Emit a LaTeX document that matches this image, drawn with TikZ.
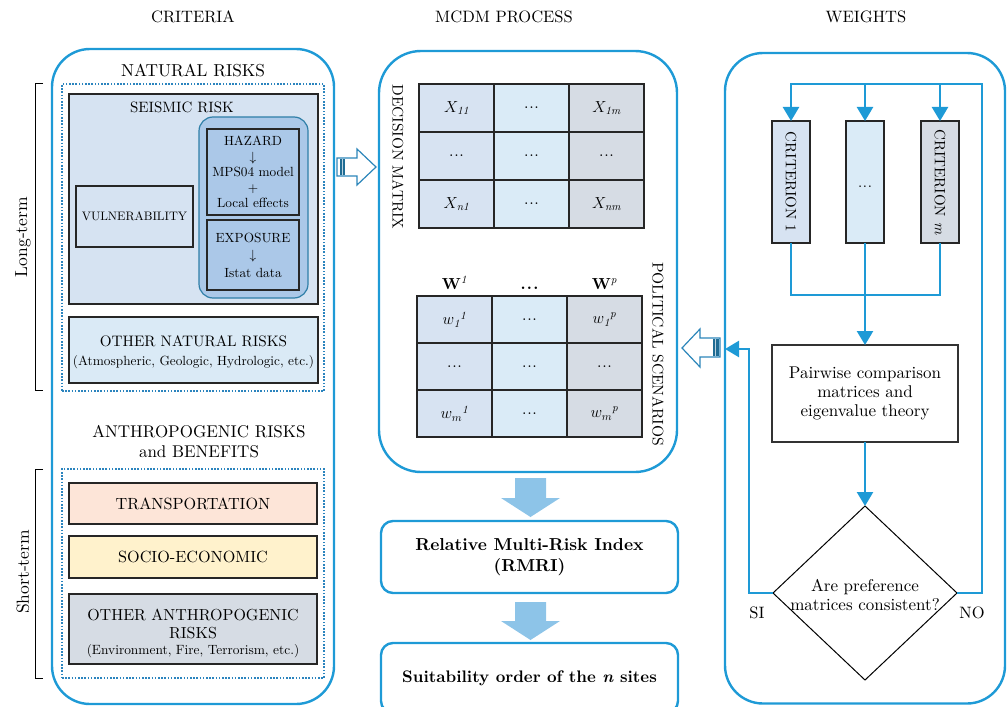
\documentclass[tikz,border=0pt]{standalone}
\usepackage{fix-cm}
\usepackage{fontspec}
\setmainfont{lmroman10}[Extension=.otf, UprightFont=*-regular, BoldFont=*-bold,
  ItalicFont=*-italic, BoldItalicFont=*-bolditalic]
\usetikzlibrary{arrows.meta,shapes.geometric}

\definecolor{frameblue}{HTML}{1E9AD6}
\definecolor{dotblue}{HTML}{2B84BE}
\definecolor{seisfill}{HTML}{D6E3F2}
\definecolor{hazfill}{HTML}{ABC8E8}
\definecolor{hazline}{HTML}{2F7FA8}
\definecolor{natfill}{HTML}{DAEAF6}
\definecolor{trfill}{HTML}{FDE5D8}
\definecolor{sefill}{HTML}{FFF2CC}
\definecolor{anfill}{HTML}{D6DCE4}
\definecolor{colA}{HTML}{D7E3F2}
\definecolor{colB}{HTML}{DAEBF7}
\definecolor{colC}{HTML}{D6DCE4}
\definecolor{blockarrow}{HTML}{8DC4E8}
\definecolor{hollowline}{HTML}{2C86BA}
\definecolor{stripe}{HTML}{1F6C94}

% compact ellipsis used in the matrix cells
\newcommand{\celldots}{.\kern0.7pt.\kern0.7pt.}

\tikzset{
  panel/.style={draw=frameblue, line width=2.4pt, rounded corners=#1},
  dotframe/.style={draw=dotblue, line width=1.6pt, dash pattern=on 1.6pt off 1.6pt},
  riskbox/.style={draw=black!85, line width=1.2pt},
  dmcell/.style={draw=black!85, line width=1.2pt, minimum width=75pt, minimum height=#1,
                 font=\fontsize{16}{19}\selectfont},
  flow/.style={draw=frameblue, line width=2.4pt, -{Triangle[length=14pt,width=16pt]}},
  link/.style={draw=frameblue, line width=2.4pt},
  heading/.style={font=\fontsize{16.5}{20}\selectfont},
  hollowarrow/.style={draw=hollowline, line width=1.2pt, fill=white, line join=miter},
  bracket/.style={draw=black, line width=1pt},
  termlabel/.style={font=\fontsize{17.5}{20}\selectfont, rotate=90},
}

\begin{document}
\begin{tikzpicture}[x=1pt, y=-1pt, every node/.style={inner sep=0pt, outer sep=0pt}]
\useasboundingbox (0,0) rectangle (1008,706);
\clip (0,0) rectangle (1008,706);

% ---------- column headings ----------
\node[heading] (hCrit) at (193,17) {CRITERIA};
\node[heading] (hMcdm) at (504,17) {MCDM PROCESS};
\node[heading] (hWeights) at (866,17) {WEIGHTS};

% ---------- criteria panel ----------
\node[panel=38pt, minimum width=282pt, minimum height=655pt] (critPanel) at (193,376.5) {};

\node[font=\fontsize{17.3}{20}\selectfont] (natTitle) at (193,70) {NATURAL RISKS};
\node[dotframe, minimum width=262pt, minimum height=307pt] (natFrame) at (193,237.5) {};

\node[riskbox, fill=seisfill, minimum width=249pt, minimum height=210pt] (seis) at (193.5,199) {};
\node[font=\fontsize{15}{18}\selectfont] (seisTitle) at (182,107) {SEISMIC RISK};

\node[draw=hazline, line width=1.2pt, fill=hazfill, rounded corners=14pt,
      minimum width=109pt, minimum height=181pt] (hazGroup) at (253.5,207.5) {};
\node[riskbox, fill=hazfill, minimum width=92pt, minimum height=86pt, align=center,
      font=\fontsize{13.3}{15.5}\selectfont] (haz) at (253,172)
      {HAZARD\\$\downarrow$\\MPS04 model\\+\\Local effects};
\node[riskbox, fill=hazfill, minimum width=92pt, minimum height=70pt, align=center,
      font=\fontsize{13.3}{17.5}\selectfont] (expo) at (253,255)
      {EXPOSURE\\$\downarrow$\\Istat data};

\node[riskbox, fill=seisfill, minimum width=117pt, minimum height=61pt,
      font=\fontsize{12.3}{14}\selectfont] (vuln) at (134.5,216.5) {VULNERABILITY};

\node[riskbox, fill=natfill, minimum width=249pt, minimum height=66pt] (othNat) at (193.5,350) {};
\node[font=\fontsize{15.2}{18}\selectfont] (othNatA) at (193.5,341) {OTHER NATURAL RISKS};
\node[font=\fontsize{13.3}{15}\selectfont] (othNatB) at (193.5,362) {(Atmospheric, Geologic, Hydrologic, etc.)};

\node[align=center, font=\fontsize{17}{20}\selectfont] (antTitle) at (199,442)
      {ANTHROPOGENIC RISKS\\and BENEFITS};
\node[dotframe, minimum width=262pt, minimum height=209pt] (antFrame) at (193,573.5) {};

\node[riskbox, fill=trfill, minimum width=248pt, minimum height=41pt,
      font=\fontsize{16.2}{19}\selectfont] (trans) at (193,503.5) {TRANSPORTATION};
\node[riskbox, fill=sefill, minimum width=248pt, minimum height=42pt,
      font=\fontsize{16.2}{19}\selectfont] (socio) at (193,557) {SOCIO-ECONOMIC};
\node[riskbox, fill=anfill, minimum width=248pt, minimum height=70pt] (othAnt) at (193,629) {};
\node[align=center, font=\fontsize{16}{18}\selectfont] (othAntA) at (193,624)
      {OTHER ANTHROPOGENIC\\RISKS};
\node[font=\fontsize{13.4}{15}\selectfont] (othAntB) at (193,651) {(Environment, Fire, Terrorism, etc.)};

% time-horizon brackets
\draw[bracket] (43,84) -- (35,84) -- (35,390) -- (43,390);
\node[termlabel] (longTerm) at (23,237) {Long-term};
\draw[bracket] (43,469) -- (35,469) -- (35,678) -- (43,678);
\node[termlabel] (shortTerm) at (23,572) {Short-term};

% criteria feed the decision matrix
\draw[hollowarrow] (337,158) -- (357,158) -- (357,149) -- (376,167) -- (357,185) -- (357,176) -- (337,176) -- cycle;
\fill[stripe] (340,158.6) rectangle (345,175.4);
\draw[white!70!stripe, line width=0.7pt] (342,158.6) -- (342,175.4);

% ---------- MCDM panel ----------
\node[panel=42pt, minimum width=298pt, minimum height=421pt] (mcdm) at (528,261.5) {};

\node[rotate=-90, font=\fontsize{15.3}{18}\selectfont] (dmLabel) at (398,157) {DECISION MATRIX};

\node[dmcell=48pt, fill=colA] (dm11) at (456.5,108) {$X_{\mathit{11}}$};
\node[dmcell=48pt, fill=colB] (dm12) at (531.5,108) {\celldots};
\node[dmcell=48pt, fill=colC] (dm13) at (606.5,108) {$X_{\mathit{1m}}$};
\node[dmcell=48pt, fill=colA] (dm21) at (456.5,156) {\celldots};
\node[dmcell=48pt, fill=colB] (dm22) at (531.5,156) {\celldots};
\node[dmcell=48pt, fill=colC] (dm23) at (606.5,156) {\celldots};
\node[dmcell=48pt, fill=colA] (dm31) at (456.5,204) {$X_{\mathit{n1}}$};
\node[dmcell=48pt, fill=colB] (dm32) at (531.5,204) {\celldots};
\node[dmcell=48pt, fill=colC] (dm33) at (606.5,204) {$X_{\mathit{nm}}$};

\node[anchor=base, font=\fontsize{16}{19}\selectfont] (psH1) at (454.5,289) {$\mathbf{W}^{\mathit{1}}$};
\node[anchor=base, font=\fontsize{16}{19}\selectfont] (psH2) at (529.5,289) {\textbf{.\kern1.2pt.\kern1.2pt.}};
\node[anchor=base, font=\fontsize{16}{19}\selectfont] (psH3) at (604.5,289) {$\mathbf{W}^{\mathit{p}}$};

\node[dmcell=47pt, fill=colA] (ps11) at (454.5,319.5) {$w_{\mathit{1}}{}^{\mathit{1}}$};
\node[dmcell=47pt, fill=colB] (ps12) at (529.5,319.5) {\celldots};
\node[dmcell=47pt, fill=colC] (ps13) at (604.5,319.5) {$w_{\mathit{1}}{}^{\mathit{p}}$};
\node[dmcell=47pt, fill=colA] (ps21) at (454.5,366.5) {\celldots};
\node[dmcell=47pt, fill=colB] (ps22) at (529.5,366.5) {\celldots};
\node[dmcell=47pt, fill=colC] (ps23) at (604.5,366.5) {\celldots};
\node[dmcell=47pt, fill=colA] (ps31) at (454.5,413.5) {$w_{m}{}^{\mathit{1}}$};
\node[dmcell=47pt, fill=colB] (ps32) at (529.5,413.5) {\celldots};
\node[dmcell=47pt, fill=colC] (ps33) at (604.5,413.5) {$w_{m}{}^{\mathit{p}}$};

\node[rotate=-90, font=\fontsize{15.5}{18}\selectfont] (psLabel) at (658,354) {POLITICAL SCENARIOS};

% results
\fill[blockarrow] (515,478) -- (546,478) -- (546,498) -- (560,498) -- (530.5,517) -- (501,498) -- (515,498) -- cycle;
\node[panel=12pt, minimum width=297pt, minimum height=72pt, align=center,
      font=\bfseries\fontsize{17.3}{21}\selectfont] (rmri) at (529.5,557)
      {Relative Multi-Risk Index\\(RMRI)};
\fill[blockarrow] (515,602) -- (546,602) -- (546,621) -- (560,621) -- (530.5,640) -- (501,621) -- (515,621) -- cycle;
\node[panel=12pt, minimum width=297pt, minimum height=70pt,
      font=\bfseries\fontsize{16.7}{20}\selectfont] (suit) at (529.5,678)
      {Suitability order of the \textit{n} sites};

% ---------- weights panel ----------
\node[panel=38pt, minimum width=280pt, minimum height=650.5pt] (wPanel) at (865,378.25) {};

\node[riskbox, fill=colA, minimum width=38pt, minimum height=122pt] (c1) at (791,182) {};
\node[riskbox, fill=colB, minimum width=38pt, minimum height=122pt] (c2) at (865,182) {};
\node[riskbox, fill=colC, minimum width=38pt, minimum height=122pt] (c3) at (940,182) {};
\node[rotate=-90, font=\fontsize{15}{18}\selectfont] (c1t) at (791,182) {CRITERION 1};
\node[font=\fontsize{15}{18}\selectfont] (c2t) at (865,187) {\celldots};
\node[rotate=-90, font=\fontsize{15}{18}\selectfont] (c3t) at (940,182) {CRITERION \textit{m}};

\node[draw=black!80, line width=1.2pt, fill=white, minimum width=186pt, minimum height=97pt,
      align=center, font=\fontsize{17}{19}\selectfont] (pw) at (865,393.5)
      {Pairwise comparison\\matrices and\\eigenvalue theory};

\node[draw=black, line width=1pt, diamond, minimum width=184pt, minimum height=174pt] (dia) at (865,593) {};
\node[align=center, font=\fontsize{17}{18.5}\selectfont] (diaText) at (865,595)
      {Are preference\\matrices consistent?};

\coordinate (loopTR) at (982,84);
\coordinate (merge) at (865,295);
\coordinate (siTop) at (749,349);

% NO: back to the criteria
\draw[flow] (dia.east) -| (loopTR) -| (c1.north);
\draw[flow] (c2.north |- loopTR) -- (c2.north);
\draw[flow] (c3.north |- loopTR) -- (c3.north);
% criteria merge into the pairwise comparison
\draw[link] (c1.south) |- (merge) -| (c3.south);
\draw[flow] (c2.south) -- (pw.north);
\draw[flow] (pw.south) -- (dia.north);
% SI: weights go to the scenarios
\draw[flow] (dia.west) -| (siTop) -- (siTop -| wPanel.west);

\node[font=\fontsize{16.5}{19}\selectfont] (siLbl) at (757,613) {SI};
\node[font=\fontsize{16.5}{19}\selectfont] (noLbl) at (972,613) {NO};

% weights feed the political scenarios
\draw[hollowarrow] (720,338) -- (700,338) -- (700,329) -- (682,348) -- (700,367) -- (700,357) -- (720,357) -- cycle;
\fill[stripe] (713,338.6) rectangle (718.5,356.4);
\draw[white!70!stripe, line width=0.7pt] (715.5,338.6) -- (715.5,356.4);

\end{tikzpicture}
\end{document}
